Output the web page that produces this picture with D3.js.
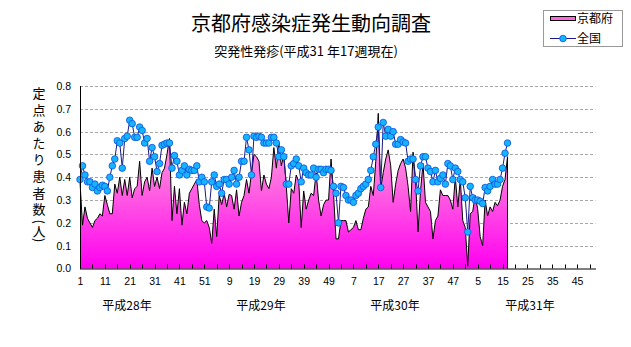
<!DOCTYPE html>
<html><head><meta charset="utf-8">
<script src="https://cdn.jsdelivr.net/npm/d3@7"></script>
<style>
html,body{margin:0;padding:0;background:#fff;}
svg{display:block;font-family:"Noto Sans CJK JP","Noto Sans",sans-serif;}
.vt{writing-mode:vertical-rl;text-orientation:mixed;}
</style></head>
<body><svg id="c" width="631" height="347"></svg>
<script>
const title = "京都府感染症発生動向調査";
const subtitle = "突発性発疹(平成31 年17週現在)";
const yLabelMain = "定点あたり患者数";
const yLabelTail = "(人)";
const seriesNames = ["京都府","全国"];
const years = ["平成28年","平成29年","平成30年","平成31年"];
const weeksPerYear = 52;
const yTicks = [0,0.1,0.2,0.3,0.4,0.5,0.6,0.7,0.8];

// 京都府 (area)
const kyoto = [
0.38,0.19,0.27,0.22,0.20,0.18,0.21,0.22,0.24,0.23,
0.32,0.28,0.24,0.24,0.37,0.33,0.40,0.32,0.39,0.32,
0.40,0.31,0.35,0.36,0.47,0.32,0.38,0.40,0.34,0.44,
0.36,0.40,0.35,0.42,0.44,0.50,0.57,0.21,0.36,0.24,
0.35,0.19,0.29,0.24,0.33,0.35,0.37,0.39,0.28,0.21,
0.20,0.21,0.18,0.11,0.26,0.14,0.32,0.28,0.33,0.27,
0.325,0.32,0.26,0.345,0.23,0.29,0.32,0.39,0.33,0.42,
0.50,0.49,0.47,0.34,0.41,0.37,0.35,0.40,0.53,0.44,
0.55,0.45,0.50,0.36,0.20,0.35,0.33,0.41,0.38,0.18,
0.34,0.26,0.30,0.33,0.32,0.42,0.30,0.23,0.28,0.30,
0.30,0.48,0.33,0.13,0.13,0.21,0.21,0.21,0.16,0.17,
0.18,0.21,0.17,0.17,0.22,0.26,0.27,0.36,0.32,0.47,
0.68,0.35,0.42,0.48,0.52,0.45,0.29,0.37,0.43,0.46,
0.48,0.44,0.36,0.25,0.51,0.39,0.16,0.34,0.46,0.29,
0.27,0.25,0.13,0.21,0.23,0.345,0.32,0.32,0.32,0.30,
0.26,0.40,0.27,0.39,0.21,0.18,0.01,0.24,0.25,0.32,
0.26,0.14,0.10,0.30,0.23,0.27,0.25,0.29,0.275,0.30,
0.36,0.39,0.49];

// 全国 (line)
const national = [
0.39,0.45,0.41,0.38,0.38,0.355,0.37,0.34,0.355,0.365,
0.36,0.34,0.40,0.45,0.48,0.56,0.55,0.44,0.57,0.58,
0.65,0.635,0.575,0.575,0.62,0.605,0.55,0.57,0.47,0.53,
0.49,0.425,0.46,0.54,0.545,0.55,0.55,0.44,0.495,0.47,
0.41,0.43,0.45,0.41,0.435,0.43,0.43,0.45,0.38,0.40,
0.38,0.27,0.265,0.38,0.41,0.36,0.37,0.33,0.39,0.39,
0.37,0.40,0.43,0.37,0.40,0.47,0.47,0.575,0.52,0.41,
0.58,0.575,0.58,0.575,0.55,0.55,0.55,0.575,0.575,0.55,
0.49,0.52,0.49,0.37,0.37,0.45,0.46,0.48,0.45,0.38,
0.44,0.42,0.41,0.41,0.44,0.40,0.435,0.435,0.42,0.435,
0.435,0.43,0.36,0.33,0.20,0.36,0.355,0.32,0.30,0.30,
0.29,0.32,0.33,0.35,0.36,0.37,0.39,0.43,0.49,0.545,
0.62,0.355,0.64,0.58,0.61,0.58,0.60,0.545,0.545,0.565,
0.555,0.55,0.47,0.48,0.48,0.39,0.34,0.45,0.49,0.49,
0.44,0.425,0.38,0.43,0.38,0.395,0.41,0.37,0.46,0.45,
0.39,0.44,0.425,0.39,0.38,0.31,0.16,0.36,0.31,0.30,
0.30,0.295,0.285,0.355,0.34,0.36,0.39,0.37,0.37,0.39,
0.44,0.505,0.55];

const totalWeeks = years.length * weeksPerYear;
const svg = d3.select("#c");
const pLeft = 80, pRight = 594.5, pTop = 86, pBottom = 268.5;
const x = d3.scaleLinear().domain([0, totalWeeks - 1]).range([pLeft, pRight]);
const y = d3.scaleLinear().domain([0, 0.8]).range([pBottom, pTop]);

// gradient
const defs = svg.append("defs");
const grad = defs.append("linearGradient").attr("id","pk")
  .attr("gradientUnits","userSpaceOnUse").attr("x1",0).attr("x2",0)
  .attr("y1",y(0.7)).attr("y2",y(0));
grad.append("stop").attr("offset","0%").attr("stop-color","#ffb8ec");
grad.append("stop").attr("offset","45%").attr("stop-color","#ff6ee0");
grad.append("stop").attr("offset","100%").attr("stop-color","#ff00f0");

// title
svg.append("text").attr("x",311).attr("y",31).attr("text-anchor","middle")
  .attr("font-size",20).attr("fill","#000").text(title);
svg.append("text").attr("x",306).attr("y",56).attr("text-anchor","middle")
  .attr("font-size",13).attr("fill","#000").text(subtitle);

// gridlines
svg.append("g").selectAll("line").data(yTicks.filter(d=>d>0)).join("line")
  .attr("x1",pLeft).attr("x2",595.5)
  .attr("y1",d=>Math.round(y(d))+0.5).attr("y2",d=>Math.round(y(d))+0.5)
  .attr("stroke","#a8a8a8").attr("stroke-dasharray","3,2").attr("stroke-width",1);

// area
const area = d3.area().x((d,i)=>x(i)).y0(y(0)).y1(d=>y(d));
svg.append("path").datum(kyoto).attr("d",area)
  .attr("fill","url(#pk)").attr("stroke","none");
const ln = d3.line().x((d,i)=>x(i)).y(d=>y(d));
svg.append("path").attr("d",
   ln(kyoto) + "L" + x(kyoto.length-1) + "," + y(0))
  .attr("fill","none").attr("stroke","#000").attr("stroke-width",1);

// national line
svg.append("path").datum(national).attr("d",ln)
  .attr("fill","none").attr("stroke","#1a1a8c").attr("stroke-width",1);
svg.append("g").selectAll("circle").data(national).join("circle")
  .attr("cx",(d,i)=>x(i)).attr("cy",d=>y(d)).attr("r",3.3)
  .attr("fill","#14b4ff").attr("stroke","#1050e0").attr("stroke-width",0.8);

// axes
const yAxis = d3.axisLeft(y).tickValues(yTicks).tickSize(0).tickPadding(9)
  .tickFormat(d3.format(".1f"));
const gy = svg.append("g").attr("transform",`translate(${pLeft},0)`).call(yAxis);
gy.select(".domain").remove();
gy.selectAll("text").attr("font-family","Liberation Sans, Arial, sans-serif")
  .attr("font-size",10.5).attr("fill","#000");
svg.append("line").attr("x1",pLeft+0.5).attr("x2",pLeft+0.5).attr("y1",pTop).attr("y2",pBottom)
  .attr("stroke","#000");

const xTicks = d3.range(0,totalWeeks,5);
const xAxis = d3.axisBottom(x).tickValues(xTicks).tickSize(0).tickPadding(9)
  .tickFormat(i => i % 10 === 0 ? String(i % weeksPerYear + 1) : "");
const gx = svg.append("g").attr("transform",`translate(0,${pBottom})`).call(xAxis);
gx.select(".domain").remove();
gx.selectAll("text").attr("font-family","Liberation Sans, Arial, sans-serif")
  .attr("font-size",10.5).attr("fill","#000");
svg.append("g").selectAll("line").data(xTicks).join("line")
  .attr("x1",d=>Math.round(x(d))+0.5).attr("x2",d=>Math.round(x(d))+0.5)
  .attr("y1",pBottom-4).attr("y2",pBottom).attr("stroke","#000");
svg.append("line").attr("x1",pLeft).attr("x2",596).attr("y1",pBottom+0.5).attr("y2",pBottom+0.5)
  .attr("stroke","#000");

// year labels
const yearLabelX = [127, 261, 395, 530];
svg.append("g").selectAll("text").data(years).join("text")
  .attr("x",(d,i)=>yearLabelX[i]).attr("y",310).attr("text-anchor","middle")
  .attr("font-size",12).attr("fill","#000").text(d=>d);

// y label (vertical writing, one text)
const yl = svg.append("text").attr("class","vt").attr("writing-mode","tb")
  .attr("x",39).attr("y",86.5).attr("font-size",13).attr("fill","#000");
yl.append("tspan").attr("letter-spacing",3.6).text(yLabelMain);
yl.append("tspan").attr("letter-spacing",0.5).text(yLabelTail);

// legend
const lg = svg.append("g");
lg.append("rect").attr("x",543.5).attr("y",10.5).attr("width",79).attr("height",36)
  .attr("fill","#fff").attr("stroke","#999");
lg.append("rect").attr("x",550.5).attr("y",16.5).attr("width",25).attr("height",4)
  .attr("fill","#ff66dd").attr("stroke","#000");
lg.append("text").attr("x",577).attr("y",23).attr("font-size",12).text(seriesNames[0]);
lg.append("line").attr("x1",550).attr("x2",576).attr("y1",38.5).attr("y2",38.5)
  .attr("stroke","#1a1a8c");
lg.append("circle").attr("cx",563).attr("cy",38.5).attr("r",3.3)
  .attr("fill","#14b4ff").attr("stroke","#1050e0").attr("stroke-width",0.8);
lg.append("text").attr("x",577).attr("y",43).attr("font-size",12).text(seriesNames[1]);
</script></body></html>
